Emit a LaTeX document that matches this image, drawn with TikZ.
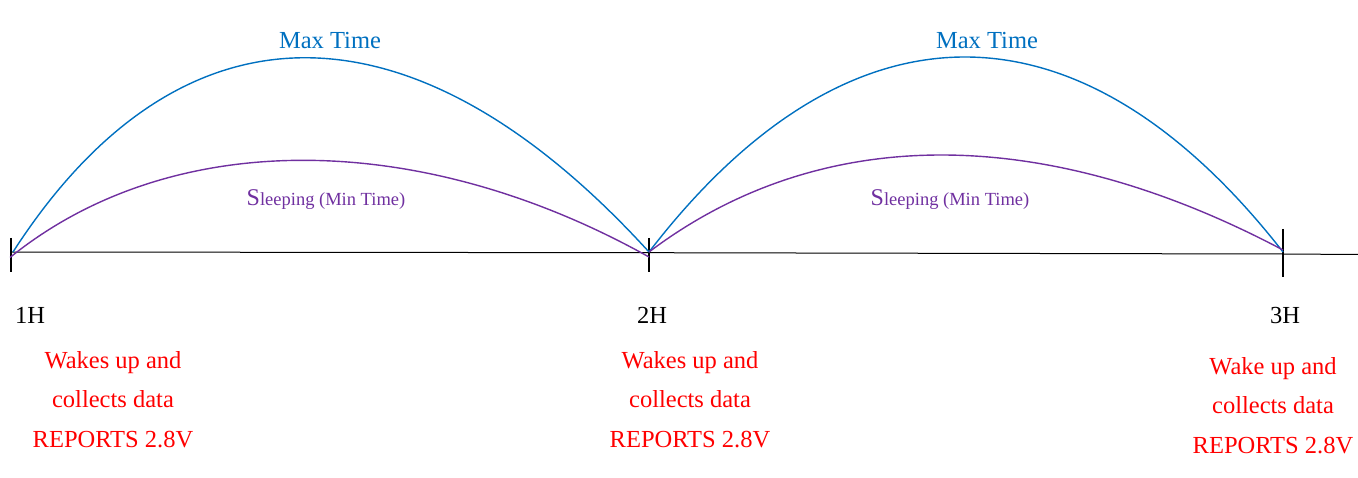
\documentclass[tikz,border=0pt]{standalone}
\usepackage{fontspec}
\setmainfont{Liberation Serif}
\usetikzlibrary{positioning}

\definecolor{maxblue}{RGB}{0,112,192}
\definecolor{sleeppurple}{RGB}{112,48,160}

\begin{document}
\begin{tikzpicture}[x=1pt, y=-1pt,
    hourlabel/.style={anchor=base, font=\fontsize{24.5}{30}\selectfont},
    wakelabel/.style={anchor=base, align=center, text=red, font=\fontsize{24.5}{39.5}\selectfont},
    maxlabel/.style={anchor=base, text=maxblue, font=\fontsize{24.5}{30}\selectfont},
    sleeplabel/.style={anchor=base, text=sleeppurple, font=\fontsize{18.5}{22}\selectfont},
    maxarc/.style={maxblue, line width=1.4pt},
    sleeparc/.style={sleeppurple, line width=1.4pt}]
    \useasboundingbox (0,0) rectangle (1358,478);
    % Zeitachse
    \coordinate (h1) at (11,252);
    \coordinate (h2) at (649,252.7);
    \coordinate (h3) at (1283,254);
    \coordinate (axisend) at (1358,254.5);
    \draw[black, line width=1pt] (h1) -- (h2) -- (h3) -- (axisend);
    % Striche
    \draw[black, line width=1.3pt] (11,238) -- (11,272);
    \draw[black, line width=1.3pt] (649,238) -- (649,272);
    \draw[black, line width=1.3pt] (1283,229) -- (1283,277);
    % Max Time Boegen
    \draw[maxarc] (13,252) .. controls (180,-7) and (413,-7) .. (649,252);
    \draw[maxarc] (649,252) .. controls (849,-8) and (1080,-8) .. (1283,252);
    % Sleeping Boegen
    \draw[sleeparc] (10,257.5) .. controls (170,128) and (418,128) .. (649,257);
    \draw[sleeparc] (649,252) .. controls (820,123) and (1043,123) .. (1283,250);
    % Bogen-Beschriftungen
    \node[maxlabel] (max1) at (330,49) {Max Time};
    \node[maxlabel] (max2) at (987,49) {Max Time};
    \node[sleeplabel] (sleep1) at (326,206) {{\fontsize{24}{28}\selectfont S}leeping (Min Time)};
    \node[sleeplabel] (sleep2) at (950,206) {{\fontsize{24}{28}\selectfont S}leeping (Min Time)};
    % Stunden
    \node[hourlabel] (hour1) at (30,324) {1H};
    \node[hourlabel] (hour2) at (652,324) {2H};
    \node[hourlabel] (hour3) at (1285,324) {3H};
    % Aufwachen (base = letzte Zeile)
    \node[wakelabel] (wake1) at (113,447) {Wakes up and\\collects data\\REPORTS 2.8V};
    \node[wakelabel] (wake2) at (690,447) {Wakes up and\\collects data\\REPORTS 2.8V};
    \node[wakelabel] (wake3) at (1273,453) {Wake up and\\collects data\\REPORTS 2.8V};
\end{tikzpicture}
\end{document}
